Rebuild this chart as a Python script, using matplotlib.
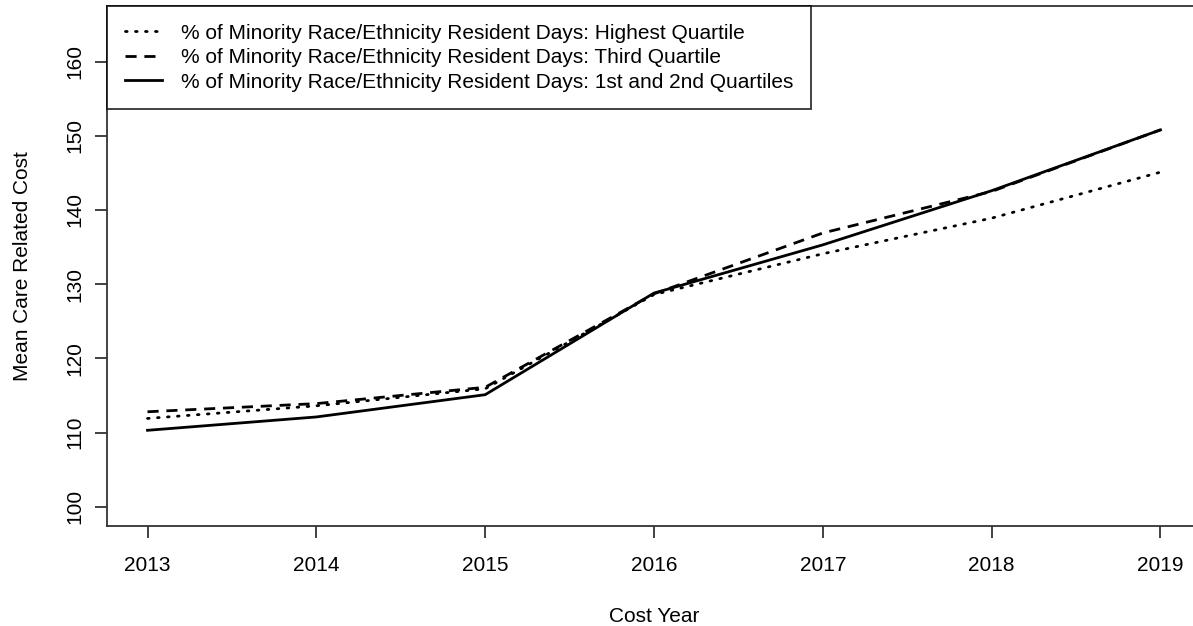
import numpy as np
import matplotlib
matplotlib.use("Agg")
import matplotlib.pyplot as plt

plt.rcParams['font.family'] = ['Liberation Sans', 'DejaVu Sans']

years = [2013, 2014, 2015, 2016, 2017, 2018, 2019]
highest_q = [111.9, 113.6, 115.9, 128.6, 134.1, 138.9, 145.1]
third_q = [112.8, 113.9, 116.1, 128.7, 136.9, 142.5, 150.8]
first_second_q = [110.3, 112.1, 115.1, 128.8, 135.3, 142.6, 150.8]

labels = [
    "% of Minority Race/Ethnicity Resident Days: Highest Quartile",
    "% of Minority Race/Ethnicity Resident Days: Third Quartile",
    "% of Minority Race/Ethnicity Resident Days: 1st and 2nd Quartiles",
]
yticks = [100, 110, 120, 130, 140, 150, 160]

fs = 15.0
fig = plt.figure(figsize=(11.93, 6.26), dpi=100)
ax = fig.add_axes([107 / 1193, 1 - 526 / 626, 1094 / 1193, 520 / 626])

ax.plot(years, highest_q, color='black', lw=2.0, linestyle=(0, (0.6, 3.0)),
        dash_capstyle='round', label=labels[0])
ax.plot(years, third_q, color='black', lw=2.0, linestyle=(0, (4.0, 2.8)),
        label=labels[1])
ax.plot(years, first_second_q, color='black', lw=2.0, label=labels[2])

ax.set_xlim(2012.76, 2019.24)
ax.set_ylim(97.4, 167.5)
ax.set_xticks(years)
ax.set_yticks(yticks)
ax.set_yticklabels([str(v) for v in yticks], rotation=90, va='center')

for s in ax.spines.values():
    s.set_color('#333333')
    s.set_linewidth(1.3)
ax.tick_params(axis='both', labelsize=fs, color='#333333', width=1.3, length=8.5)
ax.tick_params(axis='x', pad=13)
ax.tick_params(axis='y', pad=8)

ax.set_xlabel("Cost Year", fontsize=fs, labelpad=23)
ax.set_ylabel("Mean Care Related Cost", fontsize=fs, labelpad=24)

leg = ax.legend(loc='upper left', bbox_to_anchor=(0, 1), borderaxespad=0,
                fontsize=fs, frameon=True, fancybox=False, edgecolor='black',
                handlelength=1.8, handletextpad=0.9, labelspacing=0.26,
                borderpad=0.85)
leg.get_frame().set_linewidth(1.3)

fig.savefig("out.png", dpi=100)
